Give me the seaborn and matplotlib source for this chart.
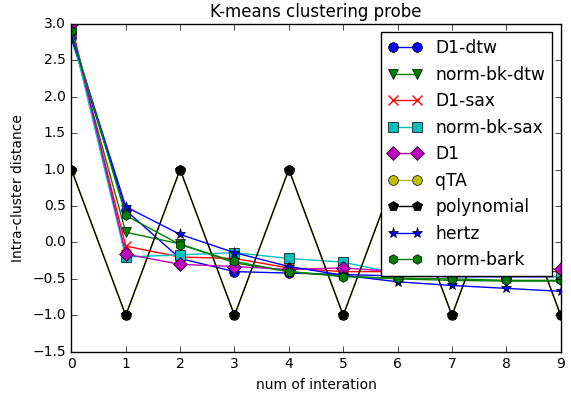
import numpy as np
import pandas as pd
import matplotlib
matplotlib.use("Agg")
import matplotlib.pyplot as plt
import seaborn as sns

plt.style.use('classic')

# values
iterations = list(range(10))
d1_dtw = [2.80, 0.44, -0.22, -0.40, -0.42, -0.44, -0.46, -0.47, -0.47, -0.47]
norm_bk_dtw = [2.86, 0.14, -0.02, -0.28, -0.40, -0.46, -0.50, -0.52, -0.53, -0.53]
d1_sax = [2.92, -0.05, -0.20, -0.22, -0.35, -0.40, -0.40, -0.42, -0.40, -0.40]
norm_bk_sax = [2.90, -0.20, -0.17, -0.14, -0.22, -0.27, -0.43, -0.45, -0.46, -0.47]
d1 = [3.00, -0.16, -0.30, -0.33, -0.37, -0.35, -0.40, -0.40, -0.38, -0.36]
qta = [1, -1, 1, -1, 1, -1, 1, -1, 1, -1]
polynomial = [1, -1, 1, -1, 1, -1, 1, -1, 1, -1]
hertz = [2.85, 0.49, 0.11, -0.14, -0.33, -0.45, -0.54, -0.59, -0.63, -0.67]
norm_bark = [2.90, 0.37, -0.03, -0.26, -0.40, -0.47, -0.49, -0.50, -0.52, -0.52]

series = [
    ('D1-dtw', d1_dtw, 'b', 'o'),
    ('norm-bk-dtw', norm_bk_dtw, 'g', 'v'),
    ('D1-sax', d1_sax, 'r', 'x'),
    ('norm-bk-sax', norm_bk_sax, 'c', 's'),
    ('D1', d1, 'm', 'D'),
    ('qTA', qta, 'y', 'o'),
    ('polynomial', polynomial, 'k', 'p'),
    ('hertz', hertz, 'b', '*'),
    ('norm-bark', norm_bark, 'g', 'h'),
]

fig = plt.figure(figsize=(5.71, 3.94), dpi=100)
ax = fig.add_axes([0.125, 0.107, 0.857, 0.833])

for name, vals, col, mk in series:
    df = pd.DataFrame({'iter': iterations, 'dist': vals})
    edge = col if mk == 'x' else 'k'
    sns.lineplot(data=df, x='iter', y='dist', ax=ax, color=col, marker=mk,
                 markersize=8 if mk == '*' else 7, markeredgecolor=edge,
                 markeredgewidth=1 if mk == 'x' else 0.5, linewidth=1,
                 label=name)

ax.set_xlim(0, 9)
ax.set_ylim(-1.5, 3.0)
ax.set_xticks(range(10))
ax.set_yticks(np.arange(-1.5, 3.01, 0.5))
ax.tick_params(labelsize=10)
ax.set_xlabel('num of interation', fontsize=10)
ax.set_ylabel('Intra-cluster distance', fontsize=10)
ax.set_title('K-means clustering probe', fontsize=12)
ax.legend(loc='upper right', fontsize=12.3, numpoints=2)

fig.savefig('out.png', dpi=100, facecolor='white')
